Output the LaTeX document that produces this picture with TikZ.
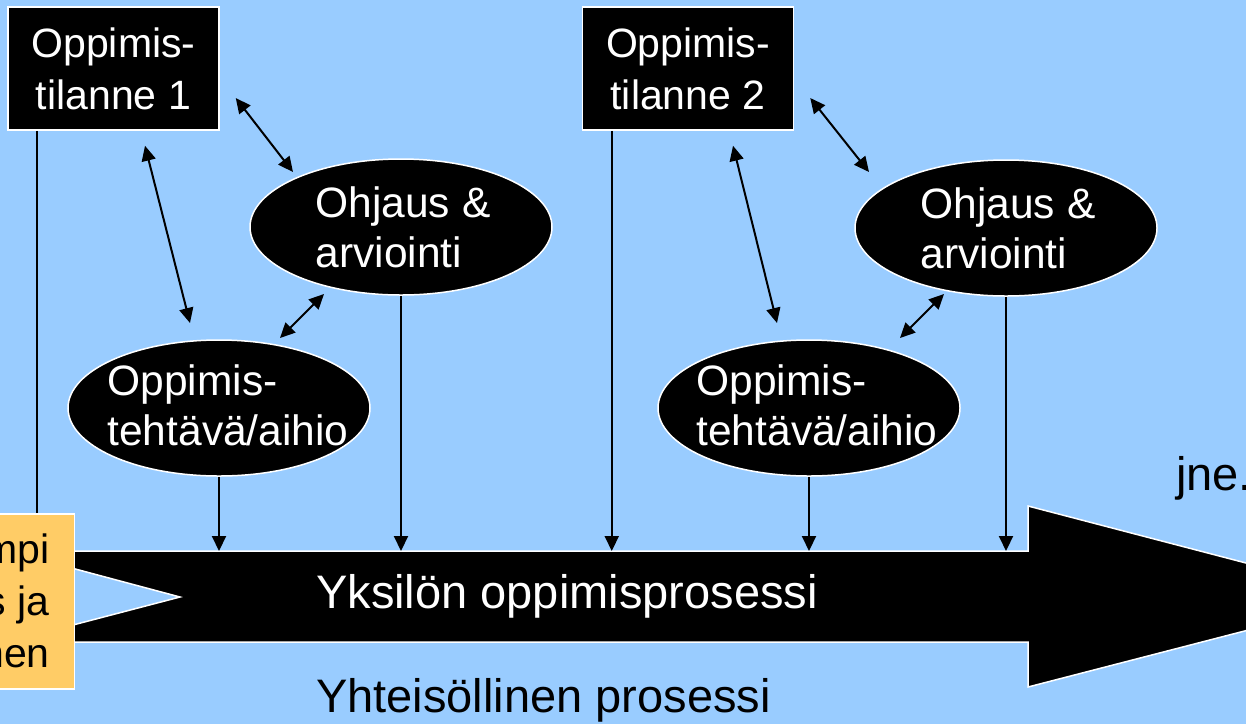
\documentclass[tikz,border=0pt]{standalone}
\usepackage{fontspec}
\setmainfont{Liberation Sans}
\usetikzlibrary{shapes.geometric,arrows.meta,calc}
\definecolor{bgblue}{HTML}{99CCFF}
\definecolor{priororange}{HTML}{FFCC66}
\begin{document}
\begin{tikzpicture}[x=1pt,y=-1pt,
  every node/.style={font=\fontsize{41pt}{52pt}\selectfont},
  bigfont/.style={font=\fontsize{47pt}{56pt}\selectfont},
  blackbox/.style={rectangle,fill=black,draw=white,line width=1.5pt,minimum width=211pt,minimum height=123pt,inner sep=0pt,text=white,align=center},
  blackell/.style={ellipse,fill=black,draw=white,line width=1.5pt,minimum width=302pt,minimum height=136pt,inner sep=0pt},
  elltext/.style={text=white,align=left,inner sep=0pt,font=\fontsize{42.5pt}{50pt}\selectfont},
  conn/.style={line width=2pt,-{Triangle[length=15pt,width=14pt]}},
  dbl/.style={line width=2pt,{Triangle[length=15pt,width=14pt]}-{Triangle[length=15pt,width=14pt]}},
  priorbox/.style={rectangle,fill=priororange,draw=white,line width=1.5pt,inner sep=0pt}
]
\useasboundingbox (0,0) rectangle (1246,724);
\clip (0,0) rectangle (1246,724);
\fill[bgblue] (0,0) rectangle (1246,724);

% main arrow
\draw[fill=black,draw=white,line width=1.5pt]
  (8,551) -- (1028,551) -- (1028,506) -- (1376,597) -- (1028,687) -- (1028,642) -- (8,642) -- (180,597) -- cycle;
\coordinate (bodytop) at (0,551);

% nodes
\node[blackbox] (b1) at (113.5,68.5) {Oppimis-\\tilanne 1};
\node[blackbox] (b2) at (688,68.5) {Oppimis-\\tilanne 2};
\node[blackell,label={[elltext,xshift=2pt]center:{Ohjaus \&\\arviointi}}] (o1) at (401,227) {};
\node[blackell,label={[elltext,xshift=2pt]center:{Ohjaus \&\\arviointi}}] (o2) at (1006,228) {};
\node[blackell,label={[elltext,xshift=9pt,yshift=3pt]center:{Oppimis-\\tehtävä/aihio}}] (t1) at (219,408) {};
\node[blackell,label={[elltext,xshift=8pt,yshift=3pt]center:{Oppimis-\\tehtävä/aihio}}] (t2) at (809,408) {};

% prior box
\draw[line width=2pt] ([xshift=30pt]b1.south west) -- ([xshift=30pt]b1.south west |- 0,520);
\node[priorbox,minimum width=120pt,minimum height=175pt,anchor=north east] (prior) at (75,513) {};
\node[anchor=base east,inner sep=0pt] (p1) at (50,563) {mpi};
\node[anchor=base east,inner sep=0pt] (p2) at (50,615) {s ja};
\node[anchor=base east,inner sep=0pt] (p3) at (50,667) {nen};

% vertical connectors
\draw[conn] ([xshift=30pt]b2.south west) -- ([xshift=30pt]b2.south west |- bodytop);
\draw[conn] (t1.south) -- (t1.south |- bodytop);
\draw[conn] (o1.south) -- (o1.south |- bodytop);
\draw[conn] (t2.south) -- (t2.south |- bodytop);
\draw[conn] (o2.south) -- (o2.south |- bodytop);

% double arrows
\draw[dbl] ($(b1.east)+(16,29.5)$) -- ($(o1.center)+(-108,-55)$);
\draw[dbl] ($(b1.south)+(31.5,15)$) -- ($(t1.center)+(-29,-85)$);
\draw[dbl] ($(t1.center)+(61,-70)$) -- ($(o1.center)+(-77,67)$);
\draw[dbl] ($(b2.east)+(16,29.5)$) -- ($(o2.center)+(-137,-56)$);
\draw[dbl] ($(b2.south)+(45,15)$) -- ($(t2.center)+(-32,-85)$);
\draw[dbl] ($(t2.center)+(91,-70)$) -- ($(o2.center)+(-62,66)$);

% texts
\node[bigfont,text=white,anchor=base west,inner sep=0pt] (yks) at (316,608) {Yksilön oppimisprosessi};
\node[bigfont,anchor=base west,inner sep=0pt] (yht) at (316,712) {Yhteisöllinen prosessi};
\node[bigfont,anchor=base west,inner sep=0pt] (jne) at (1176,490) {jne.};
\end{tikzpicture}
\end{document}
